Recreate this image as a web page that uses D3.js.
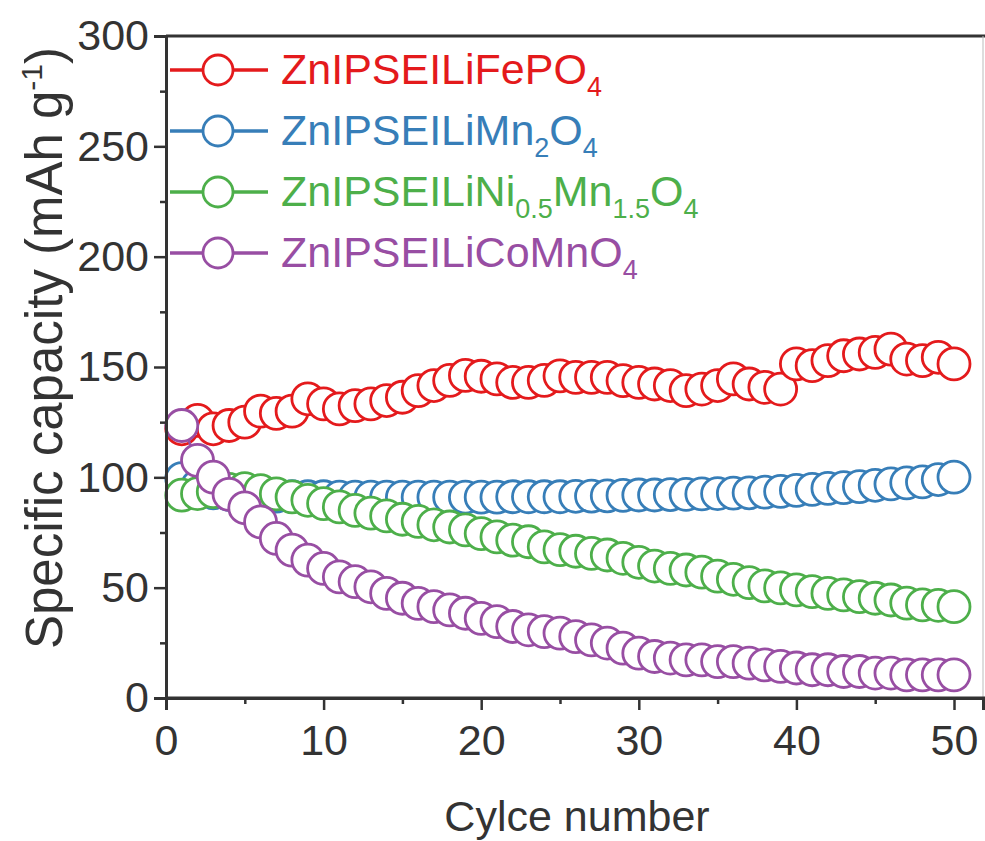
<!DOCTYPE html>
<html>
<head>
<meta charset="utf-8">
<script src="https://cdn.jsdelivr.net/npm/d3@7"></script>
<style>
  html, body { margin: 0; padding: 0; background: #fff; }
  svg { display: block; font-family: Arial, "Liberation Sans", sans-serif; }
</style>
</head>
<body>
<svg id="chart" width="985" height="841"></svg>
<script>
// Cycle index (x) for every series
const cycles = [1,2,3,4,5,6,7,8,9,10,11,12,13,14,15,16,17,18,19,20,21,22,23,24,25,
                26,27,28,29,30,31,32,33,34,35,36,37,38,39,40,41,42,43,44,45,46,47,48,49,50];

// Specific capacity (mAh g-1) per cycle
const lfpValues = [122,125.8,122,123.5,125,130,129,130,135.6,133.3,131,132.5,133.3,134.8,136.3,139.3,141.6,143.9,146.2,145.8,
                   144.6,143,143,143.9,146,145.3,145.3,145.3,143.8,143,142.3,141.6,139.3,140,141.6,144.6,142.3,140.8,140,151.4,
                   150.6,152.9,155.1,155.9,156.6,158.1,153.6,152.9,154.4,151.4];
const lmoValues = [99.4,96,93,92.3,92,91.8,91.5,91.3,91.2,91.2,91,91,91,91,91,91,91,91,91,91,
                   91,91.2,91.2,91.2,91.2,91.4,91.5,91.6,91.8,92,92,92.2,92.3,92.5,92.6,92.8,93,93.3,93.6,94.1,
                   94.5,95,95.3,95.8,96.4,97,97.5,97.9,99,100.1];
const lnmoValues = [91.9,92.6,93.5,94.5,94.9,94,92.5,91.1,89.6,88.1,86.6,85,83.8,82.5,81,80,78.5,77.5,76.2,74.5,
                    73,71.5,70.8,68.5,67.2,66.5,65.5,64.8,63.3,61.5,59.8,58.7,58,57,55.2,53.8,52.3,50.8,49.9,49,
                    48.2,47.4,46.7,45.9,45.2,44.4,43,42.2,42,41.4];
const lcmoValues = [123.5,107.7,100.1,92.3,86.2,79.8,72.3,67,62.5,58.7,54.9,52.7,50.4,47.4,45.2,42.9,41.4,39.9,38.4,36.1,
                    34.6,32.4,30.9,30.1,29.4,27.8,26.3,24.9,22.6,20.3,18.8,18.1,17.3,17.3,16.5,16.5,15.8,15,14.3,13.6,
                    12.8,12.8,12,12,11.3,11.3,10.5,10.5,10.5,10.5];

// Legend labels: [text, isSubscript]
const lfpLabel  = [["ZnIPSEILiFePO", false], ["4", true]];
const lmoLabel  = [["ZnIPSEILiMn", false], ["2", true], ["O", false], ["4", true]];
const lnmoLabel = [["ZnIPSEILiNi", false], ["0.5", true], ["Mn", false], ["1.5", true], ["O", false], ["4", true]];
const lcmoLabel = [["ZnIPSEILiCoMnO", false], ["4", true]];

const seriesColors = ["#e41a1c", "#377eb8", "#4daf4a", "#984ea3"];

// Axis ticks
const xMajorTicks = [0,10,20,30,40,50];
const xMinorTicks = [5,15,25,35,45];
const yMajorTicks = [0,50,100,150,200,250,300];
const yMinorTicks = [25,75,125,175,225,275];

const series = [
  { values: lfpValues,  label: lfpLabel,  color: seriesColors[0] },
  { values: lmoValues,  label: lmoLabel,  color: seriesColors[1] },
  { values: lnmoValues, label: lnmoLabel, color: seriesColors[2] },
  { values: lcmoValues, label: lcmoLabel, color: seriesColors[3] }
];

const svg = d3.select("#chart");
const plotLeft = 166, plotRight = 983, plotTop = 36, plotBottom = 698;
const axisColor = "#333";

const x = d3.scaleLinear().domain([0, 51.84]).range([plotLeft, plotRight]);
const y = d3.scaleLinear().domain([0, 300]).range([plotBottom, plotTop]);

// Frame: top and right edges
svg.append("line").attr("x1", plotLeft).attr("x2", 985).attr("y1", plotTop).attr("y2", plotTop)
  .attr("stroke", axisColor).attr("stroke-width", 3);
svg.append("line").attr("x1", plotRight).attr("x2", plotRight).attr("y1", plotTop).attr("y2", plotBottom)
  .attr("stroke", "#bbb").attr("stroke-width", 1);

// Series: connecting lines then open circle markers
const lineGen = d3.line().x((d, i) => x(cycles[i])).y(d => y(d));
const plot = svg.append("g");
series.forEach(s => {
  const g = plot.append("g");
  g.append("path").datum(s.values).attr("d", lineGen)
    .attr("fill", "none").attr("stroke", s.color).attr("stroke-width", 2.5);
  g.selectAll("circle").data(s.values).join("circle")
    .attr("cx", (d, i) => x(cycles[i])).attr("cy", d => y(d)).attr("r", 16)
    .attr("fill", "#fff").attr("stroke", s.color).attr("stroke-width", 2.8);
});

// Bottom axis
svg.append("g").attr("transform", `translate(0,${plotBottom})`)
  .call(d3.axisBottom(x).tickValues(xMajorTicks).tickSize(12).tickPadding(14).tickFormat(d3.format("d")));
svg.append("g").attr("transform", `translate(0,${plotBottom})`)
  .call(d3.axisBottom(x).tickValues(xMinorTicks).tickSize(6).tickFormat(""));

// Left axis
svg.append("g").attr("transform", `translate(${plotLeft},0)`)
  .call(d3.axisLeft(y).tickValues(yMajorTicks).tickSize(12).tickPadding(5).tickFormat(d3.format("d")));
svg.append("g").attr("transform", `translate(${plotLeft},0)`)
  .call(d3.axisLeft(y).tickValues(yMinorTicks).tickSize(6).tickFormat(""));

svg.selectAll(".domain").attr("stroke", axisColor).attr("stroke-width", 3);
svg.selectAll(".tick line").attr("stroke", axisColor).attr("stroke-width", 2.5);
svg.selectAll(".tick text").attr("fill", axisColor).style("font-size", "43px")
  .style("font-family", "Arial, 'Liberation Sans', sans-serif");
// Extend the x-axis baseline to the right edge
svg.append("line").attr("x1", plotLeft).attr("x2", 985).attr("y1", plotBottom).attr("y2", plotBottom)
  .attr("stroke", axisColor).attr("stroke-width", 3);

// Axis titles
svg.append("text").attr("x", 577).attr("y", 831).attr("text-anchor", "middle")
  .attr("fill", axisColor).style("font-size", "43px").text("Cylce number");

const yTitle = svg.append("text")
  .attr("transform", `translate(62,348) rotate(-90)`)
  .attr("text-anchor", "middle").attr("fill", axisColor).style("font-size", "51px");
yTitle.append("tspan").text("Specific capacity (mAh g");
yTitle.append("tspan").attr("dy", -20).style("font-size", "30px").text("-1");
yTitle.append("tspan").attr("dy", 20).text(")");

// Legend
const legend = svg.append("g");
series.forEach((s, i) => {
  const cy = 70 + i * 61;
  const row = legend.append("g");
  row.append("line").attr("x1", 170).attr("x2", 268).attr("y1", cy).attr("y2", cy)
    .attr("stroke", s.color).attr("stroke-width", 3.5);
  row.append("circle").attr("cx", 218).attr("cy", cy).attr("r", 15)
    .attr("fill", "#fff").attr("stroke", s.color).attr("stroke-width", 2.8);
  const t = row.append("text").attr("x", 281).attr("y", cy + 14)
    .attr("fill", s.color).style("font-size", "43px");
  let shifted = false;
  s.label.forEach(([str, sub]) => {
    const ts = t.append("tspan").text(str);
    if (sub && !shifted) { ts.attr("dy", 12).style("font-size", "27px"); shifted = true; }
    else if (sub) { ts.style("font-size", "27px"); }
    else if (!sub && shifted) { ts.attr("dy", -12); shifted = false; }
  });
});
</script>
</body>
</html>
